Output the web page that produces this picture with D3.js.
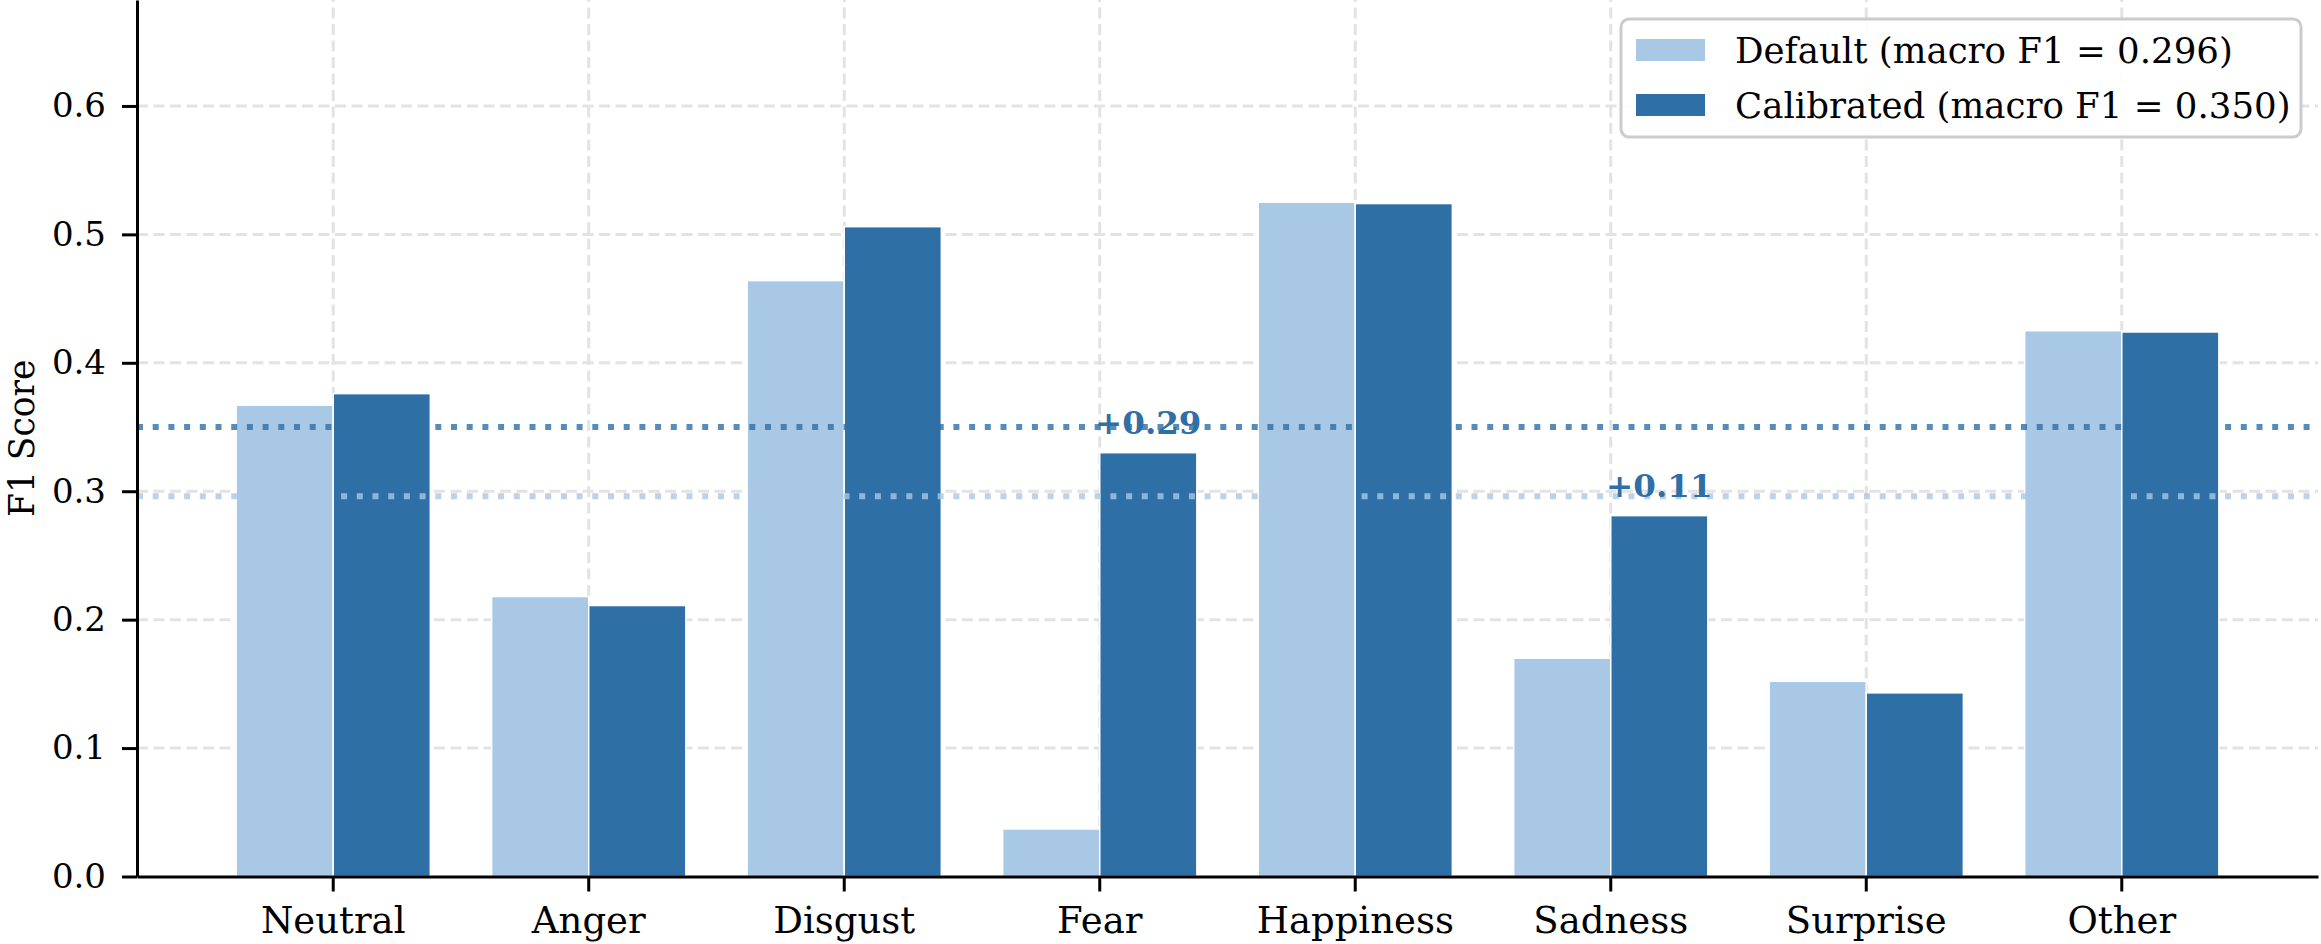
<!DOCTYPE html>
<html>
<head>
<meta charset="utf-8">
<script src="https://cdn.jsdelivr.net/npm/d3@7"></script>
<style>
  body { margin: 0; background: #fff; }
  svg { display: block; font-family: "DejaVu Serif", serif; }
</style>
</head>
<body>
<svg id="chart"></svg>
<script>
// F1 per emotion class, default vs calibrated thresholds
const categories = ["Neutral", "Anger", "Disgust", "Fear", "Happiness", "Sadness", "Surprise", "Other"];
const defaultF1 = [0.367, 0.218, 0.464, 0.037, 0.525, 0.170, 0.152, 0.425];
const calibratedF1 = [0.376, 0.211, 0.506, 0.330, 0.524, 0.281, 0.143, 0.424];
const macroDefault = 0.296;
const macroCalibrated = 0.350;
const yTicks = [0, 0.1, 0.2, 0.3, 0.4, 0.5, 0.6];
const seriesNames = ["Default", "Calibrated"];

const width = 2321, height = 944;
const margin = {top: 0, right: 3, bottom: 67.5, left: 137};
const colLight = "#a8c8e6", colDark = "#2e6fa6";

const svg = d3.select("#chart").attr("width", width).attr("height", height);

const x = d3.scaleBand()
    .domain(categories)
    .range([margin.left, width - margin.right])
    .paddingInner(0.24)
    .paddingOuter(0.388);

const xSub = d3.scaleBand()
    .domain(seriesNames)
    .range([0, x.bandwidth()]);

const y = d3.scaleLinear()
    .domain([0, 0.6825])
    .range([height - margin.bottom, margin.top]);

const rows = categories.map((c, i) => ({cat: c, Default: defaultF1[i], Calibrated: calibratedF1[i]}));

// grid
const grid = svg.append("g");
grid.selectAll("line.h")
    .data(yTicks.slice(1))
    .enter().append("line")
    .attr("x1", margin.left).attr("x2", width - margin.right)
    .attr("y1", d => y(d)).attr("y2", d => y(d))
    .attr("stroke", "#e3e3e3").attr("stroke-width", 3)
    .attr("stroke-dasharray", "11,5.5");
grid.selectAll("line.v")
    .data(categories)
    .enter().append("line")
    .attr("x1", d => x(d) + x.bandwidth() / 2).attr("x2", d => x(d) + x.bandwidth() / 2)
    .attr("y1", y.range()[0]).attr("y2", y.range()[1])
    .attr("stroke", "#e3e3e3").attr("stroke-width", 3)
    .attr("stroke-dasharray", "11,5.5");

// bars
svg.append("g")
    .selectAll("g")
    .data(rows)
    .enter().append("g")
    .attr("transform", d => `translate(${x(d.cat)},0)`)
    .selectAll("rect")
    .data(d => seriesNames.map(s => ({key: s, value: d[s]})))
    .enter().append("rect")
    .attr("x", d => xSub(d.key))
    .attr("width", xSub.bandwidth())
    .attr("y", d => y(d.value))
    .attr("height", d => y(0) - y(d.value))
    .attr("fill", d => d.key === "Default" ? colLight : colDark)
    .attr("stroke", "#fff")
    .attr("stroke-width", 1.5);

// macro F1 reference lines
const refs = [{v: macroDefault, c: colLight}, {v: macroCalibrated, c: colDark}];
svg.append("g")
    .selectAll("line")
    .data(refs)
    .enter().append("line")
    .attr("x1", margin.left).attr("x2", width - margin.right)
    .attr("y1", d => y(d.v)).attr("y2", d => y(d.v))
    .attr("stroke", d => d.c).attr("stroke-opacity", 0.8)
    .attr("stroke-width", 6)
    .attr("stroke-dasharray", "6,9.7");

// gain labels where calibration helps a lot
svg.append("g")
    .selectAll("text")
    .data(rows.filter(d => d.Calibrated - d.Default > 0.05))
    .enter().append("text")
    .attr("x", d => x(d.cat) + xSub("Calibrated") + xSub.bandwidth() / 2)
    .attr("y", d => y(d.Calibrated + 0.01))
    .attr("dy", "-0.18em")
    .attr("text-anchor", "middle")
    .attr("font-size", 32.5)
    .attr("font-weight", "bold")
    .attr("fill", colDark)
    .text(d => "+" + d3.format(".2f")(d.Calibrated - d.Default));

// axes
const gx = svg.append("g")
    .attr("transform", `translate(0,${y(0)})`)
    .call(d3.axisBottom(x).tickSize(15).tickSizeOuter(0).tickPadding(15));
gx.selectAll("text").attr("font-size", 37).attr("fill", "#000");

const gy = svg.append("g")
    .attr("transform", `translate(${margin.left},0)`)
    .call(d3.axisLeft(y).tickValues(yTicks).tickFormat(d3.format(".1f")).tickSize(15).tickSizeOuter(0).tickPadding(16));
gy.selectAll("text").attr("font-size", 34).attr("fill", "#000");

[gx, gy].forEach(g => {
    g.attr("font-family", null);
    g.select(".domain").attr("stroke-width", 3);
    g.selectAll(".tick line").attr("stroke-width", 3);
});

svg.append("text")
    .attr("transform", `translate(34,${y.range()[0] / 2}) rotate(-90)`)
    .attr("text-anchor", "middle")
    .attr("font-size", 34.5)
    .text("F1 Score");

// legend
const legend = svg.append("g");
legend.append("rect")
    .attr("x", 1621).attr("y", 19)
    .attr("width", 680).attr("height", 118)
    .attr("rx", 8)
    .attr("fill", "#fff").attr("fill-opacity", 0.9)
    .attr("stroke", "#cccccc").attr("stroke-width", 3);
const legendItems = [
    {label: `Default (macro F1 = ${macroDefault.toFixed(3)})`, c: colLight},
    {label: `Calibrated (macro F1 = ${macroCalibrated.toFixed(3)})`, c: colDark}
];
const li = legend.selectAll("g.item")
    .data(legendItems)
    .enter().append("g")
    .attr("transform", (d, i) => `translate(1636,${50 + i * 55})`);
li.append("rect")
    .attr("x", 0).attr("y", -11)
    .attr("width", 69).attr("height", 22)
    .attr("fill", d => d.c);
li.append("text")
    .attr("x", 99)
    .attr("dy", "0.36em")
    .attr("font-size", 35.6)
    .text(d => d.label);
</script>
</body>
</html>
